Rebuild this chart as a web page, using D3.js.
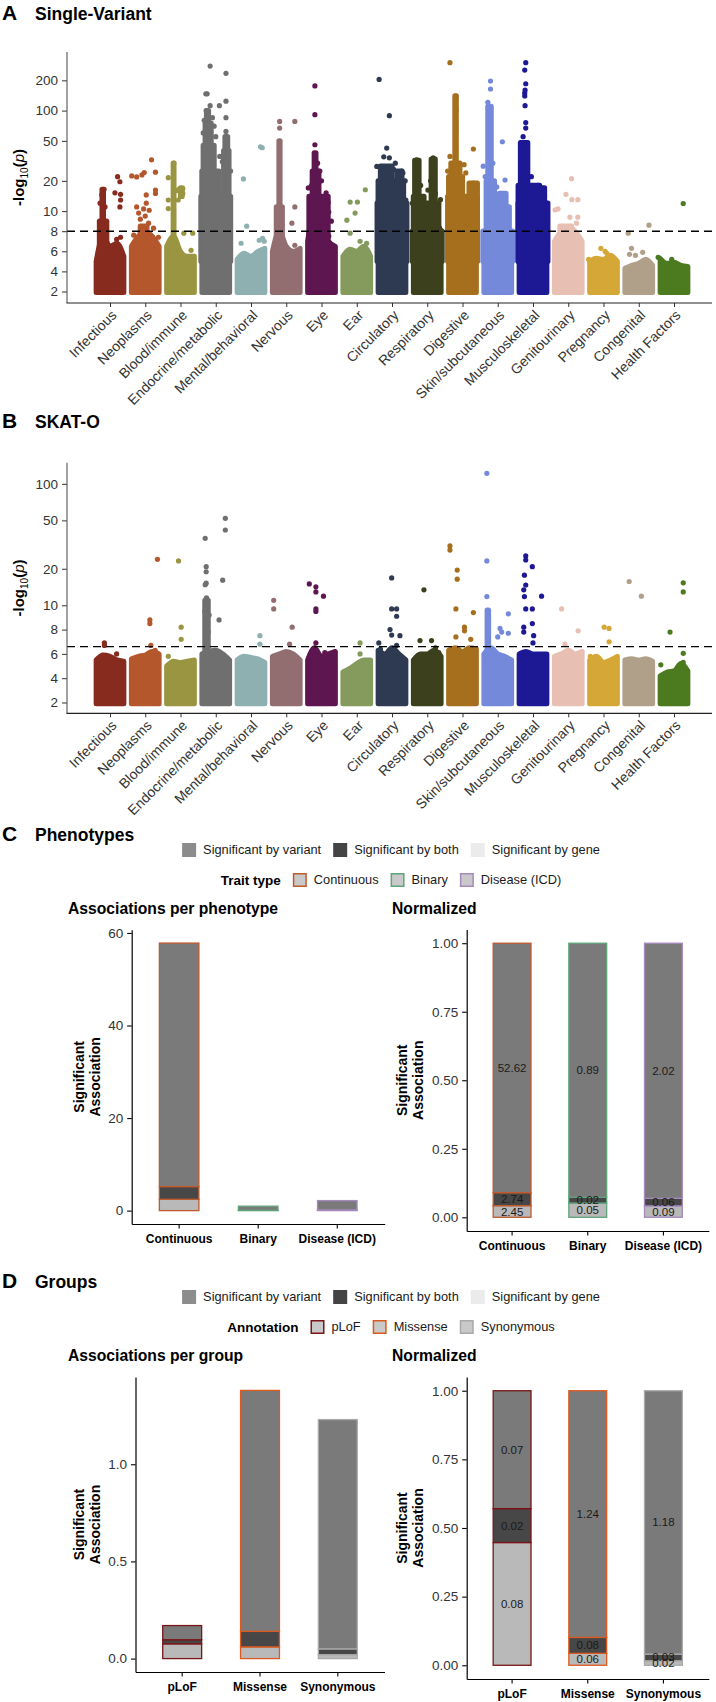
<!DOCTYPE html>
<html><head><meta charset="utf-8">
<script src="https://cdn.jsdelivr.net/npm/d3@7/dist/d3.min.js"></script>
<style>
html,body{margin:0;padding:0;background:#fff;}
svg text{font-family:"Liberation Sans",Arial,Helvetica,sans-serif;}
</style></head><body>
<svg id="chart" width="716" height="1702" xmlns="http://www.w3.org/2000/svg"></svg>
<script>
// ================= DATA =================
const categories = ["Infectious","Neoplasms","Blood/immune","Endocrine/metabolic","Mental/behavioral","Nervous","Eye","Ear","Circulatory","Respiratory","Digestive","Skin/subcutaneous","Musculoskeletal","Genitourinary","Pregnancy","Congenital","Health Factors"];
const categoryColors = ["#882b1f","#b5572d","#9a9541","#6f6f6f","#8eb0b1","#936e70","#5d1650","#849b5d","#2e3a52","#3d401d","#a56f1e","#7489da","#1d1894","#e8bfb3","#d5a736","#b0a089","#4c7a1e"];

// Panel A: single-variant (-log10 p)
const yTicksA = [2,4,6,8,10,20,50,100,200];
const thresholdA = 8;
// dense band top profile per category (5 positions across the category)
const blobA = [
  [5.0,7.5,6.5,6.8,5.5],[6.5,7.5,8.0,7.5,6.5],[6.5,7.5,6.0,5.5,5.5],[10,14,14,12,10],
  [5.2,5.8,5.5,6.0,6.3],[6.0,8.0,6.5,6.0,6.3],[7.0,10,8.5,7.0,6.5],[5.5,6.2,6.0,6.5,5.5],
  [10,13,12,12,10],[8,9,8,9,8],[10,13,12,12,10],[7,9,8,9,7],
  [10,13,12,11,9],[7,8,8.5,8,7],[5.0,5.3,5.2,5.6,5.0],[4.3,4.6,4.8,5.2,4.6],[5.3,4.8,4.9,4.6,4.5]
];
// dense vertical streaks: [category, from frac, to frac, low, high]
const streaksA = [
  [0,0.18,0.4,5,9],[0,0.26,0.3,5,16.5],
  [1,0.35,0.55,5,8.5],
  [2,0.28,0.3,5,30],[2,0.5,0.55,14,17],
  [3,0.05,0.95,5,14],[3,0.08,0.6,5,25],[3,0.12,0.45,5,45],[3,0.18,0.36,5,75],[3,0.22,0.28,50,100],[3,0.74,0.9,5,40],[3,0.78,0.86,40,55],
  [5,0.2,0.38,5,11],[5,0.28,0.31,5,50],
  [6,0.12,0.7,5,14],[6,0.22,0.42,5,25],[6,0.28,0.33,5,38],
  [8,0.05,0.95,5,12],[8,0.08,0.62,5,20],[8,0.15,0.5,5,28],[8,0.62,0.85,5,20],[8,0.65,0.8,5,25],
  [9,0.05,0.95,5,8],[9,0.08,0.4,5,14],[9,0.12,0.25,5,32],[9,0.62,0.74,5,33],[9,0.45,0.85,5,12],
  [10,0.05,0.95,5,14],[10,0.08,0.5,5,22],[10,0.15,0.42,5,30],[10,0.27,0.31,5,140],[10,0.7,0.95,5,19],
  [11,0.05,0.95,5,8],[11,0.15,0.4,5,20],[11,0.2,0.3,5,110],[11,0.45,0.85,5,11],[11,0.55,0.75,5,15],
  [12,0.05,0.95,5,12],[12,0.05,0.7,5,18],[12,0.12,0.34,5,48],[12,0.6,0.85,5,17],
  [13,0.25,0.6,5,8.5]
];
// individual points: [category, frac, value]
const dotsA = [
  [0,0.73,22],[0,0.8,19.6],[0,0.65,15.2],[0,0.82,14.7],[0,0.82,12.9],[0,0.8,11],[0,0.2,7.8],[0,0.7,7.2],[0,0.82,7.4],[0,0.45,6.3],[0,0.32,16.5],[0,0.25,14.5],[0,0.2,12],[0,0.35,11],
  [1,0.69,32.4],[1,0.47,24.2],[1,0.81,24.4],[1,0.09,22.4],[1,0.24,21.9],[1,0.40,22.9],[1,0.81,16.2],[1,0.81,15],[1,0.53,14.5],[1,0.24,11],[1,0.53,12],[1,0.35,9.2],[1,0.6,8.8],[1,0.75,8.3],[1,0.15,7.6],[1,0.9,7.4],[1,0.45,10.5],[1,0.62,10.2],[1,0.3,9.8],[1,0.5,9.5],
  [2,0.3,30],[2,0.13,21.5],[2,0.57,16.8],[2,0.57,15],[2,0.43,12.9],[2,0.13,12.9],[2,0.13,10.6],[2,0.87,7.8],[2,0.6,7.8],[2,0.82,6.1],[2,0.45,16.5],[2,0.38,16],
  [3,0.33,277],[3,0.81,235],[3,0.20,147],[3,0.24,147],[3,0.33,112],[3,0.61,112],[3,0.81,124],[3,0.21,100],[3,0.81,85],[3,0.81,62],[3,0.85,48],[3,0.88,40],[3,0.7,31],[3,0.82,31],[3,0.45,70],[3,0.12,60],[3,0.5,55],[3,0.4,85],[3,0.15,80],[3,0.62,35],[3,0.95,25],
  [4,0.27,20.9],[4,0.37,8.5],[4,0.79,43.6],[4,0.84,42.7],[4,0.2,6.8],[4,0.75,7.1],[4,0.85,7.3],[4,0.9,7.0],
  [5,0.30,78],[5,0.30,67],[5,0.76,78],[5,0.76,11],[5,0.67,8.8],[5,0.76,6.6],[5,0.3,49],
  [6,0.30,176],[6,0.30,91],[6,0.30,45.7],[6,0.7,12.2],[6,0.72,9.9],[6,0.8,9],[6,0.72,7.5],[6,0.64,15.2],[6,0.38,30],[6,0.45,25],[6,0.5,20],[6,0.1,17],[6,0.2,18],
  [7,0.76,16.3],[7,0.3,12.3],[7,0.52,12.3],[7,0.45,9.8],[7,0.2,9.1],[7,0.3,7.8],[7,0.6,7.0],[7,0.8,6.8],
  [8,0.11,204],[8,0.42,89],[8,0.34,42.4],[8,0.25,34.7],[8,0.42,33.9],[8,0.6,30],[8,0.8,25],[8,0.9,20],[8,0.04,27.8],[8,0.83,23.9],[8,0.78,15.6],[8,0.92,12.9],[8,0.55,26],
  [9,0.83,10.2],[9,0.83,9.1],[9,0.52,16.2],[9,0.18,32.4],[9,0.68,33.9],[9,0.9,13],[9,0.6,20],[9,0.3,18],[9,0.05,12],[9,0.75,15],
  [10,0.12,300],[10,0.3,139],[10,0.3,67],[10,0.83,41.5],[10,0.55,29],[10,0.12,35],[10,0.83,19],[10,0.3,100],[10,0.9,17],[10,0.6,24],[10,0.05,25],
  [11,0.28,197],[11,0.28,164],[11,0.2,121],[11,0.64,49],[11,0.06,28],[11,0.72,20.4],[11,0.47,17.4],[11,0.6,14],[11,0.7,12.5],[11,0.12,22],[11,0.35,30],
  [12,0.28,300],[12,0.25,253],[12,0.28,185],[12,0.25,150],[12,0.25,140],[12,0.26,160],[12,0.26,112],[12,0.28,76],[12,0.28,67],[12,0.74,16],[12,0.72,13],[12,0.74,11],[12,0.2,55],[12,0.65,18],[12,0.85,14],[12,0.45,22],[12,0.9,12],
  [13,0.60,21],[13,0.43,14.7],[13,0.61,13],[13,0.79,13],[13,0.19,10.5],[13,0.1,10.3],[13,0.55,9.4],[13,0.79,9.4],[13,0.75,8.8],[13,0.4,8],[13,0.55,7],[13,0.8,7],
  [14,0.42,6.3],[14,0.6,5.8],[14,0.05,5.2],[14,0.55,6.0],
  [15,0.81,8.6],[15,0.18,7.8],[15,0.28,6.3],[15,0.62,5.9],[15,0.22,5.7],[15,0.4,5.6],
  [16,0.78,11.9],[16,0.02,5.4],[16,0.43,5.2]
];

// Panel B: SKAT-O
const yTicksB = [2,4,6,8,10,20,50,100];
const thresholdB = 6.6;
const blobB = [
  [5.5,5.9,5.8,5.5,5.4],[5.6,5.8,5.9,6.2,6.0],[5.0,5.4,5.3,5.4,5.5],[6.0,6.2,6.3,6.0,5.5],
  [5.5,5.8,5.7,5.6,5.3],[5.8,6.0,6.2,6.0,5.5],[5.5,6.5,5.8,6.0,6.2],[4.5,4.8,5.2,5.5,5.5],
  [6.3,6.0,6.5,6.0,5.5],[5.5,6.0,6.0,6.3,5.8],[6.3,6.5,6.2,6.5,6.4],[6.0,6.5,6.0,5.8,5.5],
  [6.0,6.2,6.0,6.0,6.0],[5.8,6.0,6.3,6.0,6.2],[5.5,5.8,5.3,5.5,5.8],[5.5,5.6,5.5,5.6,5.4],[4.2,4.5,4.6,5.2,4.6]
];
const streaksB = [[3,0.17,0.27,6,11],[11,0.18,0.22,6,9.6]];
const dotsB = [
  [0,0.33,6.9],[0,0.33,6.7],[0,0.7,6.0],
  [1,0.87,23.9],[1,0.64,8.8],[1,0.64,8.5],[1,0.67,6.7],[1,0.8,6.3],
  [2,0.44,23.2],[2,0.52,8.2],[2,0.52,7.2],[2,0.13,5.8],
  [3,0.79,52],[3,0.79,41.7],[3,0.18,35.6],[3,0.71,16.1],[3,0.21,20.8],[3,0.21,18.9],[3,0.21,15.2],[3,0.18,14.8],[3,0.6,8.8],[3,0.25,10],[3,0.22,11.5],[3,0.2,9.6],[3,0.25,8.5],[3,0.27,7.8],[3,0.24,7.3],[3,0.17,9.5],[3,0.3,9.2],
  [4,0.77,7.5],[4,0.77,6.8],
  [5,0.12,11],[5,0.12,9.7],[5,0.68,8.2],[5,0.6,6.8],
  [6,0.13,15],[6,0.33,14.2],[6,0.33,12.9],[6,0.56,11.9],[6,0.33,9.7],[6,0.33,9.5],[6,0.33,6.9],[6,0.6,6.1],
  [7,0.6,6.9],[7,0.6,6.0],
  [8,0.49,16.8],[8,0.49,9.7],[8,0.64,9.7],[8,0.64,9.1],[8,0.44,8.0],[8,0.49,7.55],[8,0.74,7.5],[8,0.1,6.9],[8,0.64,6.7],[8,0.15,6.4],
  [9,0.40,13.4],[9,0.28,7.1],[9,0.63,7.1],[9,0.75,6.5],[9,0.85,6.1],
  [10,0.12,30.8],[10,0.12,28.5],[10,0.34,19.5],[10,0.34,16.4],[10,0.3,9.7],[10,0.83,9.4],[10,0.56,8.2],[10,0.56,7.9],[10,0.3,7.4],[10,0.75,7.2],
  [11,0.17,122],[11,0.17,23.2],[11,0.17,11.8],[11,0.82,9.3],[11,0.57,8.1],[11,0.62,7.8],[11,0.82,7.7],[11,0.5,7.4],
  [12,0.28,25.5],[12,0.28,23.6],[12,0.48,20.8],[12,0.24,17.7],[12,0.28,14.7],[12,0.22,13.4],[12,0.24,11.8],[12,0.76,11.9],[12,0.28,9.7],[12,0.48,9.7],[12,0.48,8.5],[12,0.22,8.2],[12,0.22,7.8],[12,0.52,7.5],[12,0.5,6.9],
  [13,0.30,9.7],[13,0.80,7.9],[13,0.4,6.8],
  [14,0.52,8.2],[14,0.67,8.1],[14,0.67,7.0],[14,0.1,5.8],
  [15,0.21,15.7],[15,0.58,11.9],
  [16,0.78,15.3],[16,0.78,12.9],[16,0.38,7.8],[16,0.78,6.05],[16,0.78,5.3],[16,0.1,5.1]
];

// Panel C: phenotypes
const sigLevels = ["Significant by variant","Significant by both","Significant by gene"];
const traitTypes = ["Continuous","Binary","Disease (ICD)"];
const traitColors = ["#c05a2c","#5fa47c","#a689bf"];
const phenoGene = [2.45,0.05,0.09];
const phenoBoth = [2.74,0.02,0.06];
const phenoVariant = [52.62,0.89,2.02];
const phenoTicks = [0,20,40,60];

// Panel D: groups
const annotations = ["pLoF","Missense","Synonymous"];
const annotColors = ["#7a1416","#dd5a1e","#a9a9a9"];
const groupGene = [0.076,0.06,0.02];
const groupBoth = [0.021,0.08,0.03];
const groupVariant = [0.073,1.24,1.18];
const groupTicks = [0,0.5,1.0];
const normTicks = [0,0.25,0.5,0.75,1];

// ================= DRAWING =================
const svg = d3.select("#chart");
const barFills = {gene:"#b9b9b9", both:"#474747", variant:"#7a7a7a"};
const legendFills = ["#8c8c8c","#444444","#ebebeb"];

function tr(v){ return v <= 10 ? v : 10 + 10*Math.log10(v/10); }

function panelTitle(letter, title, baseline){
  svg.append("text").attr("x",2).attr("y",baseline).attr("font-size",21).attr("font-weight","bold").text(letter);
  svg.append("text").attr("x",35).attr("y",baseline).attr("font-size",17.5).attr("font-weight","bold").text(title);
}

function manhattan(o){
  const g = svg.append("g");
  const yl = d3.scaleLinear().domain([o.tBottom,o.tTop]).range([o.bottom,o.top]);
  const y = v => yl(tr(v));
  const x = d3.scalePoint().domain(categories).range([110,674]);
  const xin = d3.scaleLinear().domain([0,1]).range([-16.5,16.5]);
  const X = (c,f) => x(categories[c]) + xin(f);
  const R = 2.6;
  const fr = [0.08,0.29,0.5,0.71,0.92];
  const area = d3.area().x(d=>d[0]).y0(y(1.9)).y1(d=>d[1]).curve(d3.curveMonotoneX);
  o.blobs.forEach((tops,c)=>{
    const pts = tops.map((t,i)=>[X(c,fr[i]), y(t)]);
    g.append("path").attr("d",area(pts)).attr("fill",categoryColors[c])
      .attr("stroke",categoryColors[c]).attr("stroke-width",5).attr("stroke-linejoin","round");
  });
  o.streaks.forEach(([c,f0,f1,lo,hi])=>{
    g.append("rect").attr("x",X(c,f0)-R).attr("width",X(c,f1)-X(c,f0)+2*R)
      .attr("y",y(hi)-R).attr("height",y(lo)-y(hi)+2*R).attr("rx",R).attr("fill",categoryColors[c]);
  });
  g.selectAll("circle.pt").data(o.dots).enter().append("circle")
    .attr("cx",d=>X(d[0],d[1])).attr("cy",d=>y(d[2])).attr("r",R).attr("fill",d=>categoryColors[d[0]]);
  // threshold line
  g.append("line").attr("x1",67).attr("x2",712).attr("y1",y(o.thresh)).attr("y2",y(o.thresh))
    .attr("stroke","#000").attr("stroke-width",1.4).attr("stroke-dasharray","8,5");
  // y axis
  const ya = g.append("g").attr("transform","translate(67,0)")
    .call(d3.axisLeft(yl).tickValues(o.ticks.map(tr)).tickFormat((d,i)=>o.ticks[i]).tickSize(5).tickPadding(4));
  ya.select(".domain").remove();
  ya.selectAll("line").attr("stroke","#333");
  ya.selectAll("text").attr("font-size",13.5).attr("fill","#333").attr("font-family",null);
  g.append("line").attr("x1",67).attr("x2",67).attr("y1",o.top).attr("y2",o.bottom).attr("stroke","#555").attr("stroke-width",1.1);
  // x axis
  const xa = g.append("g").attr("transform",`translate(0,${o.bottom})`)
    .call(d3.axisBottom(x).tickSize(4));
  xa.select(".domain").remove();
  xa.selectAll("line").attr("stroke","#333");
  xa.selectAll("text").attr("font-size",14).attr("fill","#333").attr("font-family",null)
    .attr("x",0).attr("y",0).attr("dy",0).attr("text-anchor","end")
    .attr("transform","translate(7,13) rotate(-45)");
  g.append("line").attr("x1",66.5).attr("x2",712).attr("y1",o.bottom).attr("y2",o.bottom).attr("stroke","#222").attr("stroke-width",1.2);
  // y title
  const yt = g.append("text").attr("transform",`translate(24,${(o.top+o.bottom)/2}) rotate(-90)`)
    .attr("text-anchor","middle").attr("font-size",15).attr("font-weight","bold");
  yt.append("tspan").text("-log");
  yt.append("tspan").attr("font-size",10).attr("font-weight","normal").attr("dy",4).text("10");
  yt.append("tspan").attr("dy",-4).text("(");
  yt.append("tspan").attr("font-style","italic").attr("font-weight","normal").text("p");
  yt.append("tspan").text(")");
}

panelTitle("A","Single-Variant",20);
manhattan({top:52,bottom:303,tBottom:0.856,tTop:25.83,ticks:yTicksA,thresh:thresholdA,blobs:blobA,streaks:streaksA,dots:dotsA});
panelTitle("B","SKAT-O",428);
manhattan({top:462.7,bottom:713.3,tBottom:1.11,tTop:21.74,ticks:yTicksB,thresh:thresholdB,blobs:blobB,streaks:streaksB,dots:dotsB});

function legendRow(cy, title, items){
  const g = svg.append("g");
  let xp = 0;
  if(title){
    const t = g.append("text").attr("x",0).attr("y",cy).attr("dy","0.35em").attr("font-size",13.5).attr("font-weight","bold").text(title);
    xp = t.node().getComputedTextLength() + 12;
  }
  items.forEach(it=>{
    if(it.stroke){
      g.append("rect").attr("x",xp+0.75).attr("y",cy-6.25).attr("width",12.5).attr("height",12.5)
        .attr("fill",it.fill).attr("stroke",it.stroke).attr("stroke-width",1.5);
    } else {
      g.append("rect").attr("x",xp).attr("y",cy-7).attr("width",14).attr("height",14).attr("fill",it.fill);
    }
    const t = g.append("text").attr("x",xp+21).attr("y",cy).attr("dy","0.35em").attr("font-size",12.8).attr("fill","#1a1a1a").text(it.label);
    xp += 21 + t.node().getComputedTextLength() + 12;
  });
  xp -= 12;
  g.attr("transform",`translate(${391 - xp/2},0)`);
}

function yTitle2(xb, cy){
  const t = svg.append("text").attr("transform",`translate(${xb},${cy}) rotate(-90)`)
    .attr("text-anchor","middle").attr("font-size",14).attr("font-weight","bold");
  t.append("tspan").attr("x",0).attr("dy",0).text("Significant");
  t.append("tspan").attr("x",0).attr("dy",16).text("Association");
}

function barPanel(o){
  const g = svg.append("g");
  const x = d3.scaleBand().domain(o.cats).range([o.l,o.r]).paddingInner(0.5).paddingOuter(0.35);
  const y = d3.scaleLinear().domain(o.yDomain).range([o.bottom,o.top]);
  const rows = o.cats.map((c,i)=>{
    const tot = o.gene[i]+o.both[i]+o.variant[i];
    const k = o.normalized ? 1/tot : 1;
    return {cat:c, gene:o.gene[i]*k, both:o.both[i]*k, variant:o.variant[i]*k,
            raw:{gene:o.gene[i], both:o.both[i], variant:o.variant[i]}, color:o.outline[i]};
  });
  const keys = ["gene","both","variant"];
  const series = d3.stack().keys(keys)(rows);
  series.forEach(layer=>{
    layer.forEach((d,i)=>{
      g.append("rect").attr("x",x(rows[i].cat)).attr("width",x.bandwidth())
        .attr("y",y(d[1])).attr("height",Math.max(0,y(d[0])-y(d[1])))
        .attr("fill",barFills[layer.key]).attr("stroke",rows[i].color).attr("stroke-width",1.3);
    });
  });
  if(o.normalized){
    series.forEach(layer=>{
      layer.forEach((d,i)=>{
        g.append("text").attr("x",x(rows[i].cat)+x.bandwidth()/2).attr("y",y((d[0]+d[1])/2))
          .attr("dy","0.35em").attr("text-anchor","middle").attr("font-size",11.5).attr("fill","#1a1a1a")
          .text(rows[i].raw[layer.key].toFixed(2));
      });
    });
  }
  const ya = g.append("g").attr("transform",`translate(${o.l},0)`)
    .call(d3.axisLeft(y).tickValues(o.ticks).tickFormat(d3.format(o.fmt)).tickSize(4.5).tickPadding(4).tickSizeOuter(0));
  ya.select(".domain").attr("stroke","#000").attr("stroke-width",1.2);
  ya.selectAll(".tick line").attr("stroke","#000").attr("stroke-width",1.1);
  ya.selectAll("text").attr("font-size",13.5).attr("fill","#333").attr("font-family",null);
  const xa = g.append("g").attr("transform",`translate(0,${o.bottom})`)
    .call(d3.axisBottom(x).tickSize(4.5).tickPadding(6).tickSizeOuter(0));
  xa.select(".domain").attr("stroke","#000").attr("stroke-width",1.2);
  xa.selectAll(".tick line").attr("stroke","#000").attr("stroke-width",1.1);
  xa.selectAll("text").attr("font-size",12).attr("font-weight","bold").attr("fill","#000").attr("font-family",null);
  svg.append("text").attr("x",o.titleX).attr("y",o.titleY).attr("font-size",15.7).attr("font-weight","bold").text(o.title);
  yTitle2(o.ytX, (o.top+o.bottom)/2);
}

// ---- Panel C ----
panelTitle("C","Phenotypes",840.5);
legendRow(850, null, sigLevels.map((s,i)=>({label:s, fill:legendFills[i]})));
legendRow(880, "Trait type", traitTypes.map((s,i)=>({label:s, fill:"#c9c9c9", stroke:traitColors[i]})));
const phenoMax = d3.max(traitTypes.map((_,i)=>phenoGene[i]+phenoBoth[i]+phenoVariant[i]));
barPanel({cats:traitTypes, outline:traitColors, gene:phenoGene, both:phenoBoth, variant:phenoVariant,
  l:131.7, r:384.7, top:929.7, bottom:1224, yDomain:[-0.05*phenoMax,1.05*phenoMax], ticks:phenoTicks, fmt:"d",
  normalized:false, title:"Associations per phenotype", titleX:68, titleY:913.5, ytX:84});
barPanel({cats:traitTypes, outline:traitColors, gene:phenoGene, both:phenoBoth, variant:phenoVariant,
  l:466.7, r:708.8, top:929.5, bottom:1231, yDomain:[-0.05,1.05], ticks:normTicks, fmt:".2f",
  normalized:true, title:"Normalized", titleX:392, titleY:913.5, ytX:407});

// ---- Panel D ----
panelTitle("D","Groups",1288);
legendRow(1297, null, sigLevels.map((s,i)=>({label:s, fill:legendFills[i]})));
legendRow(1327, "Annotation", annotations.map((s,i)=>({label:s, fill:"#c9c9c9", stroke:annotColors[i]})));
const groupMax = d3.max(annotations.map((_,i)=>groupGene[i]+groupBoth[i]+groupVariant[i]));
barPanel({cats:annotations, outline:annotColors, gene:groupGene, both:groupBoth, variant:groupVariant,
  l:135.5, r:384.5, top:1377, bottom:1672, yDomain:[-0.05*groupMax,1.05*groupMax], ticks:groupTicks, fmt:".1f",
  normalized:false, title:"Associations per group", titleX:68, titleY:1360.5, ytX:84});
barPanel({cats:annotations, outline:annotColors, gene:groupGene, both:groupBoth, variant:groupVariant,
  l:466.7, r:708.8, top:1377, bottom:1679, yDomain:[-0.05,1.05], ticks:normTicks, fmt:".2f",
  normalized:true, title:"Normalized", titleX:392, titleY:1360.5, ytX:407});
</script>
</body></html>
